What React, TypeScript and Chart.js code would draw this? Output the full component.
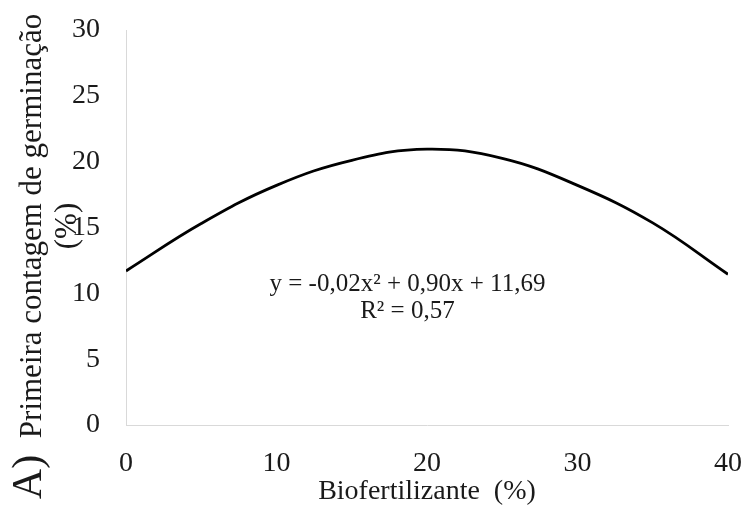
import React, { useEffect, useRef } from "react";
import { Chart, registerables } from "chart.js";

Chart.register(...registerables);

const xValues = [0, 5, 10, 15, 20, 25, 30, 35, 40];
const yValues = [11.7, 15.3, 18.2, 20.1, 20.95, 20.25, 18.2, 15.35, 11.45];
const xTicks = [0, 10, 20, 30, 40];
const yTicks = [0, 5, 10, 15, 20, 25, 30];
const xTitle = "Biofertilizante  (%)";
const yTitleLines = ["Primeira contagem de germinação", "(%)"];
const panelLabel = "A)";
const equationLines = ["y = -0,02x² + 0,90x + 11,69", "R² = 0,57"];

const FONT = "'Liberation Serif', 'Times New Roman', serif";
const TEXT = "#1a1a1a";

export default function App() {
  const ref = useRef<HTMLCanvasElement | null>(null);
  useEffect(() => {
    const canvas = ref.current;
    if (!canvas) return;
    const textPlugin = {
      id: "extraText",
      afterDraw(chart: any) {
        const ctx = chart.ctx;
        const xs = chart.scales.x;
        const ys = chart.scales.y;
        ctx.save();
        ctx.fillStyle = TEXT;
        ctx.textAlign = "center";
        ctx.textBaseline = "middle";
        // y title
        ctx.font = `31px ${FONT}`;
        const cy = 226;
        const xPos = [33, 68];
        yTitleLines.forEach((t, i) => {
          ctx.save();
          ctx.translate(xPos[i], cy);
          ctx.rotate(-Math.PI / 2);
          ctx.fillText(t, 0, 0);
          ctx.restore();
        });
        // panel label
        ctx.font = `42px ${FONT}`;
        ctx.save();
        ctx.translate(30, 477);
        ctx.rotate(-Math.PI / 2);
        ctx.fillText(panelLabel, 0, 0);
        ctx.restore();
        // equation
        ctx.font = `25px ${FONT}`;
        const ex = xs.getPixelForValue(18.7);
        const ey = ys.getPixelForValue(10.65);
        equationLines.forEach((t, i) => {
          ctx.fillText(t, ex, ey + i * 27);
        });
        ctx.restore();
      },
    };
    const chart = new Chart(canvas, {
      type: "line",
      data: {
        datasets: [
          {
            data: xValues.map((x, i) => ({ x, y: yValues[i] })),
            borderColor: "#000000",
            borderWidth: 2.8,
            pointRadius: 0,
            tension: 0.4,
            fill: false,
          },
        ],
      },
      options: {
        animation: false,
        responsive: false,
        layout: { padding: { left: 0, right: 19, top: 30, bottom: 0 } },
        plugins: { legend: { display: false }, tooltip: { enabled: false } },
        scales: {
          x: {
            type: "linear",
            min: 0,
            max: 40,
            afterBuildTicks: (s: any) => {
              s.ticks = xTicks.map((v) => ({ value: v }));
            },
            afterFit: (s: any) => {
              s.height = 91;
              s.paddingLeft = 0;
              s.paddingRight = 0;
            },
            grid: { display: false, drawTicks: false },
            border: { display: true, color: "#d9d9d9", width: 1 },
            ticks: {
              color: TEXT,
              font: { family: FONT, size: 28 },
              padding: 22,
              maxRotation: 0,
            },
            title: {
              display: true,
              text: xTitle,
              color: TEXT,
              font: { family: FONT, size: 28 },
              padding: { top: 0, bottom: 8 },
            },
          },
          y: {
            type: "linear",
            min: 0,
            max: 30,
            afterBuildTicks: (s: any) => {
              s.ticks = yTicks.map((v) => ({ value: v }));
            },
            afterFit: (s: any) => {
              s.width = 126;
              s.paddingTop = 0;
              s.paddingBottom = 0;
            },
            grid: { display: false, drawTicks: false },
            border: { display: true, color: "#d9d9d9", width: 1 },
            ticks: {
              color: TEXT,
              font: { family: FONT, size: 28 },
              padding: 26,
            },
          },
        },
      },
      plugins: [textPlugin],
    });
    return () => chart.destroy();
  }, []);
  return (
    <div style={{ position: "fixed", left: 0, top: 0, width: 747, height: 516, background: "#fff" }}>
      <canvas ref={ref} width={747} height={516} />
    </div>
  );
}
